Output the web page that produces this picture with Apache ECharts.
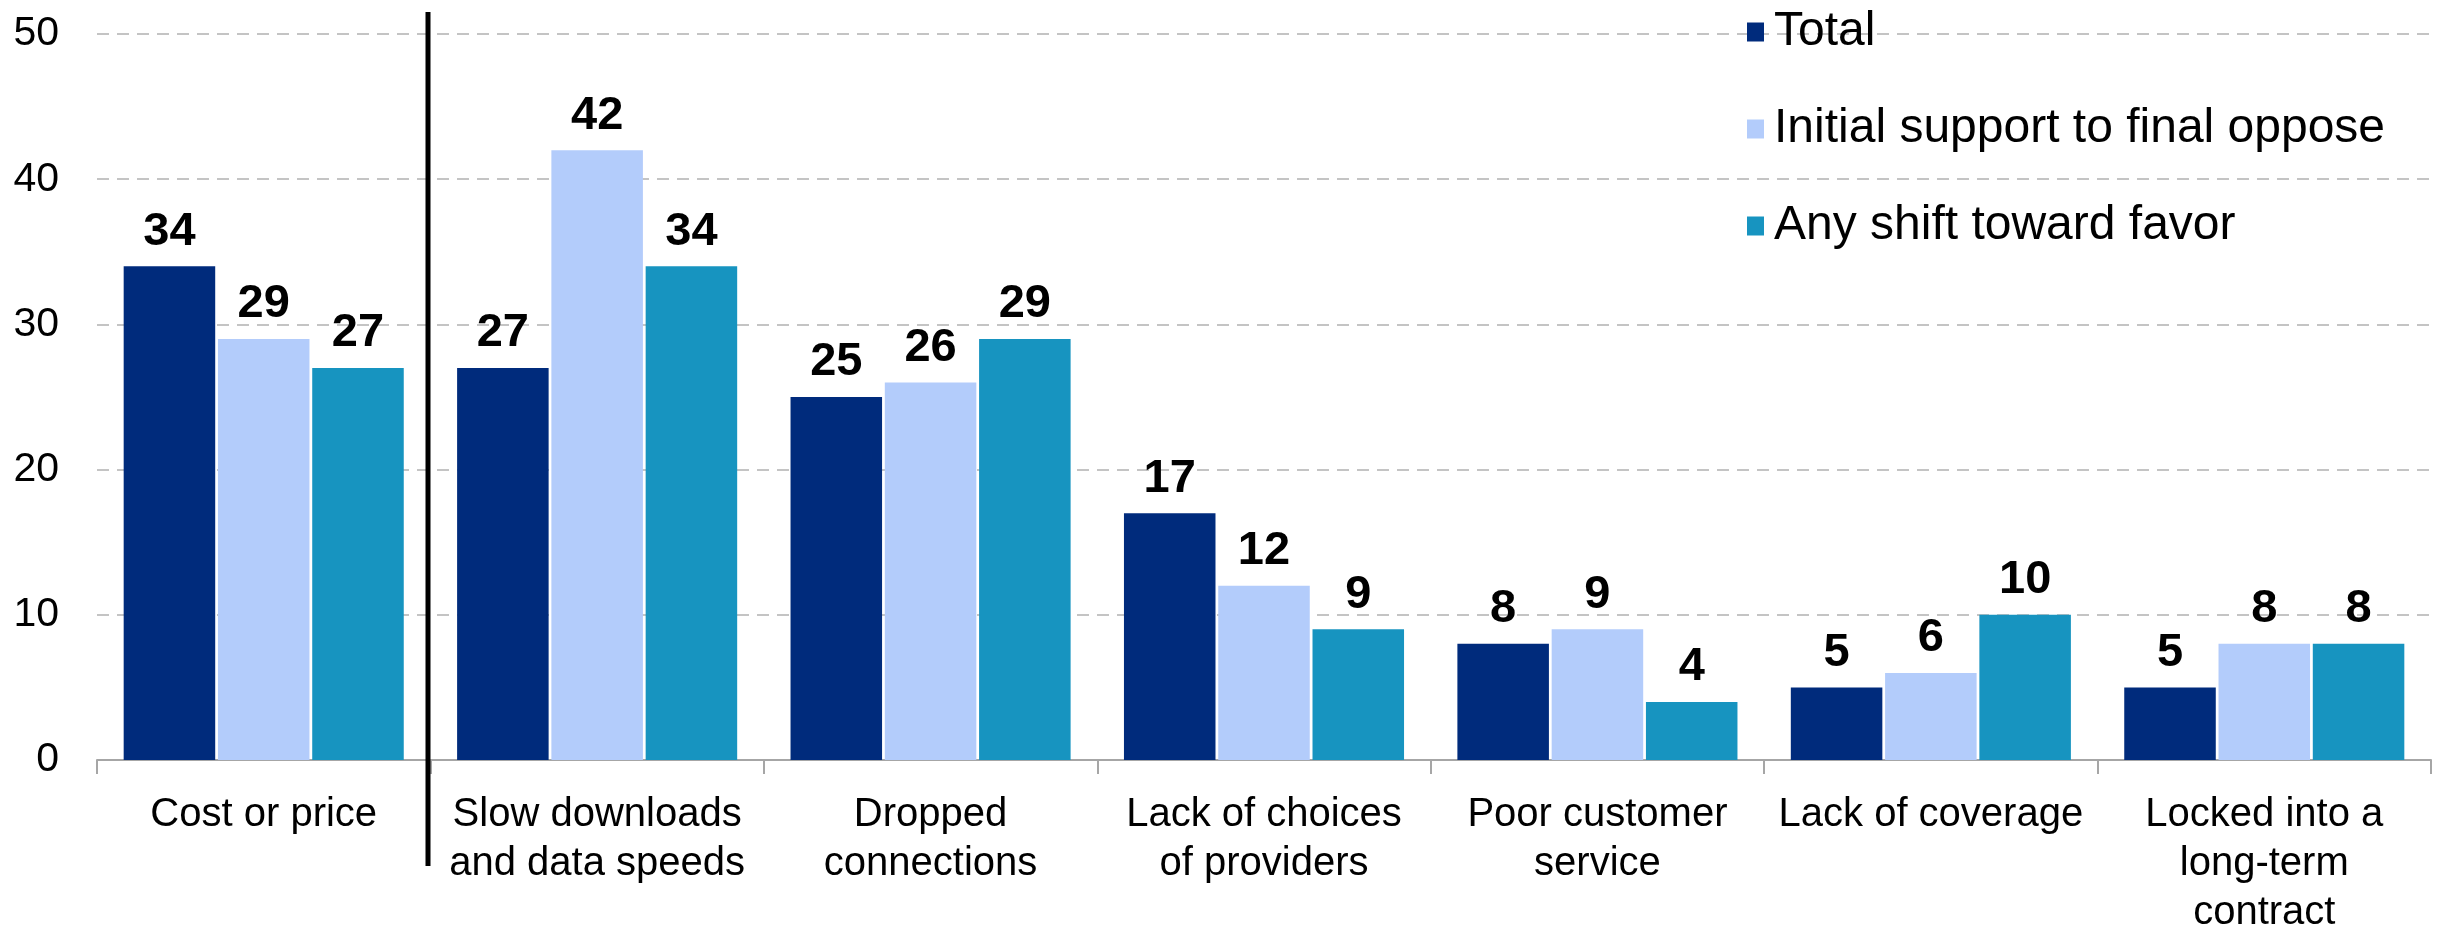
<!DOCTYPE html>
<html>
<head>
<meta charset="utf-8">
<script src="https://cdn.jsdelivr.net/npm/echarts@6/dist/echarts.min.js"></script>
<style>
  html, body { margin: 0; padding: 0; background: #fff; }
  #chart { width: 2448px; height: 925px; }
</style>
</head>
<body>
<div id="chart"></div>
<script>
// Reasons for dissatisfaction, percent of respondents by group
const categories = [
  'Cost or price',
  'Slow downloads\nand data speeds',
  'Dropped\nconnections',
  'Lack of choices\nof providers',
  'Poor customer\nservice',
  'Lack of coverage',
  'Locked into a\nlong-term\ncontract'
];
const seriesNames = ['Total', 'Initial support to final oppose', 'Any shift toward favor'];
const totalValues   = [34, 27, 25, 17, 8, 5, 5];
const initialValues = [29, 42, 26, 12, 9, 6, 8];
const shiftValues   = [27, 34, 29, 9, 4, 10, 8];
const yTicks = { min: 0, max: 50, interval: 10 };

const FONT = '"Liberation Sans", Arial, sans-serif';
const colors = ['#002B7C', '#B3CCFB', '#1794C0'];

const chart = echarts.init(document.getElementById('chart'), null, { renderer: 'canvas' });

function barSeries(name, data, color) {
  return {
    name: name,
    type: 'bar',
    data: data,
    barGap: '3%',
    barCategoryGap: '16%',
    itemStyle: { color: color },
    label: {
      show: true,
      position: 'top',
      distance: 11,
      color: '#000',
      fontFamily: FONT,
      fontWeight: 'bold',
      fontSize: 47
    }
  };
}

chart.setOption({
  animation: false,
  color: colors,
  textStyle: { fontFamily: FONT },
  grid: {
    left: 97, right: 17, top: 34, bottom: 165,
    containLabel: false,
    outerBoundsMode: 'none'
  },
  legend: {
    orient: 'vertical',
    left: 1742,
    top: 3,
    itemWidth: 17,
    itemHeight: 19,
    itemGap: 49,
    icon: 'rect',
    textStyle: { fontSize: 48, color: '#000', fontFamily: FONT, padding: [0, 0, 0, 5] },
    data: seriesNames
  },
  xAxis: {
    type: 'category',
    data: categories,
    axisLine: { lineStyle: { color: '#A6A6A6', width: 2 } },
    axisTick: { show: true, length: 14, lineStyle: { color: '#A6A6A6', width: 2 } },
    axisLabel: {
      interval: 0,
      margin: 30,
      color: '#000',
      fontSize: 40,
      lineHeight: 49,
      fontFamily: FONT
    }
  },
  yAxis: {
    type: 'value',
    min: yTicks.min,
    max: yTicks.max,
    interval: yTicks.interval,
    axisLine: { show: false },
    axisTick: { show: false },
    axisLabel: { color: '#000', fontSize: 41, margin: 38, fontFamily: FONT },
    splitLine: { lineStyle: { color: '#C4C4C4', type: [12, 8], width: 2 } }
  },
  series: [
    barSeries(seriesNames[0], totalValues, colors[0]),
    barSeries(seriesNames[1], initialValues, colors[1]),
    barSeries(seriesNames[2], shiftValues, colors[2])
  ]
});

// Divider between the first category and the rest
const x0 = chart.convertToPixel({ xAxisIndex: 0 }, categories[0]);
const x1 = chart.convertToPixel({ xAxisIndex: 0 }, categories[1]);
const xd = Math.round((x0 + x1) / 2) - 2;
chart.setOption({
  graphic: [{
    type: 'line',
    z: 100,
    shape: { x1: xd, y1: 12, x2: xd, y2: 866 },
    style: { stroke: '#000', lineWidth: 5 }
  }]
});
</script>
</body>
</html>
